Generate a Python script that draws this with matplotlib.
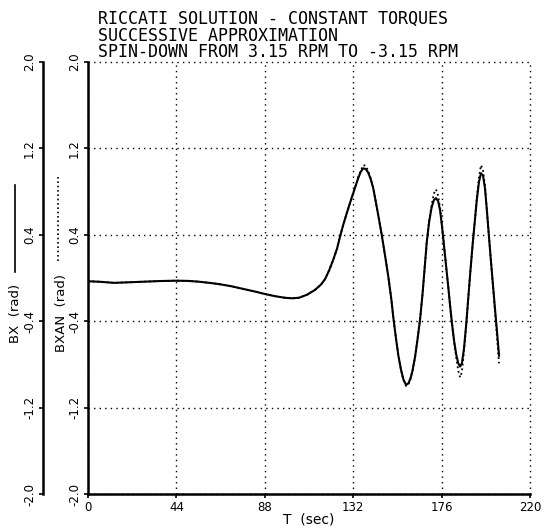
import matplotlib
matplotlib.use("Agg")
import matplotlib.pyplot as plt
from matplotlib.lines import Line2D

# time (sec)
t = [0, 6, 13, 20, 28, 36, 44, 50, 55, 60, 65, 71, 77, 83, 88, 93, 98, 101.5, 105, 109,
     113, 116, 118, 120, 122, 124, 125.4, 127, 128.8, 130.5, 132, 133.5, 134.6, 135.8, 137,
     138.2, 139.5, 140.8, 142, 144, 146.2, 148, 149.5, 151, 152, 153.3, 154.5, 155.8, 157,
     158.3, 159.5, 160.5, 161.5, 162.8, 164, 165.3, 166.5, 167.6, 168.6, 169.8, 171, 172.1,
     173.2, 174.3, 175.3, 176.2, 177.2, 178.3, 179.3, 180.2, 181.1, 182.2, 183.3, 184.3,
     185.2, 186.1, 187.1, 188.2, 189.3, 190.4, 191.4, 192.4, 193.5, 194.6, 195.6, 196.6,
     197.6, 198.6, 199.5, 200.5, 201.5, 202.5, 203.5, 204.6]

# BX (rad) - solid
bx = [-0.03, -0.035, -0.045, -0.04, -0.034, -0.028, -0.025, -0.027, -0.034, -0.044, -0.056,
      -0.075, -0.10, -0.125, -0.148, -0.168, -0.183, -0.188, -0.183, -0.155,
      -0.11, -0.06, -0.01, 0.07, 0.165, 0.275, 0.38, 0.49, 0.60, 0.70, 0.785, 0.87, 0.93, 0.985, 1.015,
      1.01, 0.975, 0.91, 0.83, 0.63, 0.40, 0.19, 0.01, -0.20, -0.37, -0.56, -0.72, -0.85, -0.94,
      -0.99, -0.975, -0.93, -0.86, -0.73, -0.57, -0.38, -0.15, 0.10, 0.33, 0.52, 0.65, 0.72,
      0.74, 0.71, 0.62, 0.48, 0.30, 0.10, -0.08, -0.25, -0.41, -0.58, -0.71, -0.79,
      -0.82, -0.79, -0.66, -0.44, -0.18, 0.08, 0.30, 0.50, 0.72, 0.89, 0.97, 0.95,
      0.83, 0.61, 0.40, 0.17, -0.05, -0.27, -0.48, -0.72]

# BXAN (rad) - dotted
bxan = [-0.03, -0.035, -0.045, -0.04, -0.034, -0.028, -0.025, -0.027, -0.034, -0.044, -0.056,
        -0.075, -0.10, -0.125, -0.148, -0.168, -0.183, -0.188, -0.183, -0.155,
        -0.11, -0.06, -0.01, 0.07, 0.165, 0.275, 0.38, 0.49, 0.60, 0.70, 0.785, 0.87, 0.94, 0.995, 1.045,
        1.04, 0.99, 0.92, 0.83, 0.63, 0.40, 0.19, 0.01, -0.20, -0.37, -0.56, -0.72, -0.85, -0.945,
        -1.0, -0.985, -0.935, -0.86, -0.73, -0.57, -0.38, -0.15, 0.10, 0.33, 0.53, 0.67, 0.78,
        0.82, 0.76, 0.64, 0.48, 0.30, 0.10, -0.08, -0.25, -0.41, -0.59, -0.74, -0.86,
        -0.92, -0.87, -0.69, -0.45, -0.18, 0.08, 0.30, 0.50, 0.73, 0.93, 1.045, 1.0,
        0.85, 0.62, 0.40, 0.17, -0.06, -0.29, -0.53, -0.79]

xticks = [0, 44, 88, 132, 176, 220]
yticks = [-2.0, -1.2, -0.4, 0.4, 1.2, 2.0]
ytick_labels = ["-2.0", "-1.2", "-0.4", "0.4", "1.2", "2.0"]

W, H = 552, 529
fig = plt.figure(figsize=(W / 100, H / 100), dpi=100)
ax = fig.add_axes([88 / W, 1 - 494 / H, 442 / W, 432 / H])

ax.plot(t, bxan, color="black", lw=1.3, ls=(0, (1, 1.6)))
ax.plot(t, bx, color="black", lw=1.5)

ax.set_xlim(0, 220)
ax.set_ylim(-2.0, 2.0)
ax.set_xticks(xticks)
ax.set_yticks(yticks)
ax.set_yticklabels(ytick_labels, rotation=90, va="center")
ax.grid(True, color="black", ls=(0, (1, 3)), lw=1.0)
for gl in ax.get_xgridlines() + ax.get_ygridlines():
    gl.set_clip_on(False)
ax.spines["top"].set_visible(False)
ax.spines["right"].set_visible(False)
ax.spines["left"].set_linewidth(1.8)
ax.spines["bottom"].set_linewidth(1.8)
ax.tick_params(direction="out", length=3, width=1.2, labelsize=8.5, pad=2)
ax.set_xlabel("T  (sec)", fontsize=10, labelpad=-1)

# outer axis for BX
sec = ax.secondary_yaxis((43 - 88) / 442)
sec.set_yticks(yticks)
sec.set_yticklabels(ytick_labels, rotation=90, va="center")
sec.spines["left"].set_linewidth(1.8)
sec.tick_params(direction="out", length=3, width=1.2, labelsize=8.5, pad=2)

# axis labels with line samples
fig.text(16 / W, 1 - 313 / H, "BX  (rad)", rotation=90, ha="center", va="center", fontsize=9.5)
fig.text(62 / W, 1 - 313 / H, "BXAN  (rad)", rotation=90, ha="center", va="center", fontsize=9.5)
fig.add_artist(Line2D([15 / W, 15 / W], [1 - 185 / H, 1 - 272 / H], color="black", lw=1.2))
fig.add_artist(Line2D([58 / W, 58 / W], [1 - 177 / H, 1 - 262 / H], color="black", lw=1.2,
                      ls=(0, (1, 1.6))))

fig.text(98 / W, 1 - 10 / H,
         "RICCATI SOLUTION - CONSTANT TORQUES\nSUCCESSIVE APPROXIMATION\nSPIN-DOWN FROM 3.15 RPM TO -3.15 RPM",
         ha="left", va="top", fontsize=12, family="DejaVu Sans Mono", linespacing=0.9)

fig.savefig("out.png", dpi=100)
